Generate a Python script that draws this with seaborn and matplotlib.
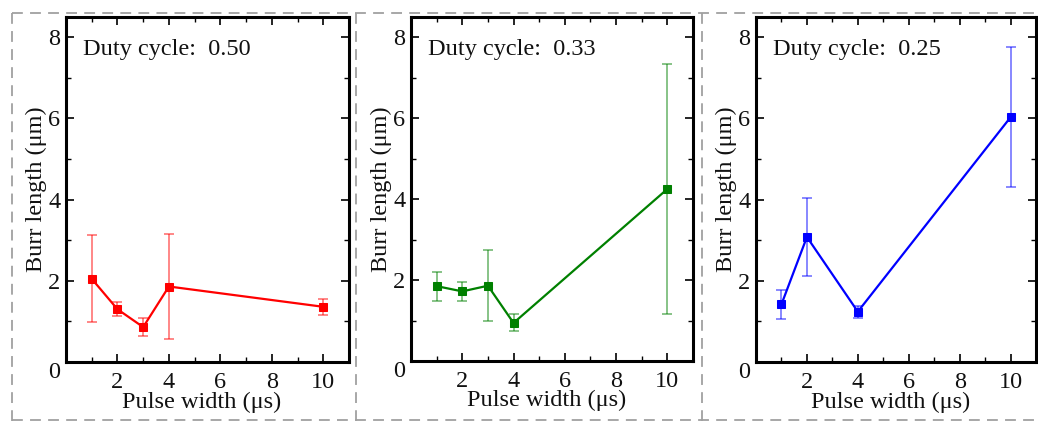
import matplotlib
matplotlib.use("Agg")
import matplotlib.pyplot as plt
from matplotlib.lines import Line2D
from matplotlib.ticker import MultipleLocator
import seaborn as sns
import pandas as pd

# Burr length vs pulse width, one panel per duty cycle
duty_labels = ["0.50", "0.33", "0.25"]

pw_050 = [1, 2, 3, 4, 10]
burr_050 = [2.05, 1.30, 0.86, 1.86, 1.36]
err_050 = [1.07, 0.17, 0.23, 1.29, 0.20]

pw_033 = [1, 2, 3, 4, 10]
burr_033 = [1.85, 1.72, 1.86, 0.94, 4.25]
err_033 = [0.36, 0.23, 0.88, 0.21, 3.10]

pw_025 = [1, 2, 4, 10]
burr_025 = [1.42, 3.08, 1.24, 6.03]
err_025 = [0.36, 0.95, 0.15, 1.73]

x_ticks = [2, 4, 6, 8, 10]
y_ticks = [0, 2, 4, 6, 8]

colors = ["#ff0000", "#008000", "#0000ff"]

sns.set_theme(style="white")
plt.rcParams["font.family"] = ["Liberation Serif", "DejaVu Serif"]

W, H = 1038, 421
fig = plt.figure(figsize=(W / 100, H / 100), dpi=100)

# axes boxes in pixels: left, right, top, bottom
boxes = [(66, 349, 17, 362), (411, 693, 17, 361), (756, 1036, 17, 362)]

series = [(pw_050, burr_050, err_050), (pw_033, burr_033, err_033),
          (pw_025, burr_025, err_025)]

FS = 17.5
for (l, r, t, b), (xs, ys, es), col, dl in zip(boxes, series, colors, duty_labels):
    ax = fig.add_axes([l / W, 1 - b / H, (r - l) / W, (b - t) / H])
    df = pd.DataFrame({"pw": xs, "burr": ys})
    ax.errorbar(xs, ys, yerr=es, fmt="none", ecolor=col, alpha=0.55,
                elinewidth=1.2, capsize=3.5, capthick=1.2, zorder=2)
    sns.lineplot(data=df, x="pw", y="burr", ax=ax, color=col, marker="s",
                 markersize=6, markeredgecolor=col, linewidth=1.6, zorder=3)
    ax.set_xlim(0, 11)
    ax.set_ylim(0, 8.5)
    ax.set_xticks(x_ticks)
    ax.set_yticks(y_ticks)
    ax.xaxis.set_minor_locator(MultipleLocator(1))
    ax.yaxis.set_minor_locator(MultipleLocator(1))
    ax.tick_params(which="both", direction="in", top=True, right=True,
                   bottom=True, left=True, colors="black", labelsize=FS,
                   labelcolor="#111111")
    ax.tick_params(which="major", length=6, width=1.2)
    ax.tick_params(axis="x", which="major", pad=7)
    ax.tick_params(axis="y", which="major", pad=4)
    ax.tick_params(which="minor", length=3.5, width=1.0)
    for sp in ax.spines.values():
        sp.set_color("black")
        sp.set_linewidth(2.2)
    ax.set_xlabel("Pulse width (\u03bcs)", fontsize=FS, labelpad=0, color="#111111")
    ax.xaxis.set_label_coords(0.48, -0.085)
    ax.set_ylabel("Burr length (\u03bcm)", fontsize=FS, labelpad=1, color="#111111")
    ax.text(0.06, 0.905, f"Duty cycle:  {dl}", transform=ax.transAxes,
            fontsize=FS, va="center", ha="left", color="#111111")
    # the zero label hangs just below the corner
    ax.yaxis.get_major_ticks()[0].label1.set_verticalalignment("top")

# dashed frames around the panels
dash_kw = dict(color="#a0a0a0", linewidth=1.3, linestyle=(0, (6, 4)),
               transform=fig.transFigure)
for xv in (12, 356, 702):
    fig.add_artist(Line2D([xv / W, xv / W], [1 - 13 / H, 0], **dash_kw))
for yv in (13, 420):
    fig.add_artist(Line2D([12 / W, 1], [1 - yv / H, 1 - yv / H], **dash_kw))

fig.savefig("out.png", dpi=100)
